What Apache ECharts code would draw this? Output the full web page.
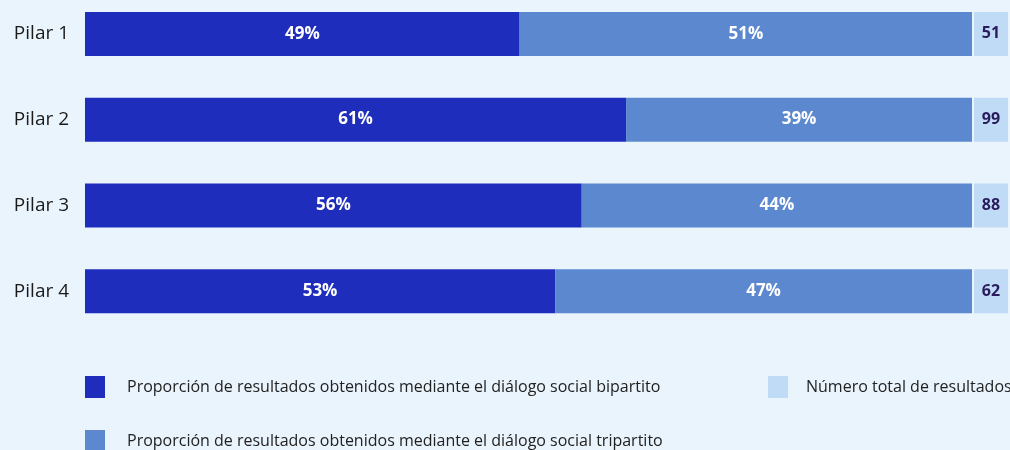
<!DOCTYPE html>
<html><head><meta charset="utf-8">
<script src="https://cdn.jsdelivr.net/npm/echarts@6/dist/echarts.min.js"></script>
<style>html,body{margin:0;padding:0;background:#eaf4fd;}#c{width:1010px;height:450px;}</style>
</head><body><div id="c"></div>
<script>
const categories = ['Pilar 1', 'Pilar 2', 'Pilar 3', 'Pilar 4'];
const bipartito = [49, 61, 56, 53];
const tripartito = [51, 39, 44, 47];
const totales = [51, 99, 88, 62];
const names = [
  'Proporción de resultados obtenidos mediante el diálogo social bipartito',
  'Proporción de resultados obtenidos mediante el diálogo social tripartito',
  'Número total de resultados'
];
const C1 = '#1f2dbd', C2 = '#5b88cf', C3 = '#c0dbf6';
const FONT = 'Open Sans';
const legendText = { fontSize: 16, color: '#222', fontFamily: FONT };
function leg(name, left, top, pad) {
  return { data: [name], left: left, top: top, itemWidth: 20, itemHeight: 22, icon: 'rect',
    textStyle: Object.assign({ padding: [0, 0, 0, pad] }, legendText), selectedMode: false, padding: 0 };
}
const chart = echarts.init(document.getElementById('c'));
chart.setOption({
  backgroundColor: '#eaf4fd',
  animation: false,
  textStyle: { fontFamily: FONT },
  grid: { left: 85, width: 887, top: -9, height: 343, outerBoundsMode: 'none', containLabel: false },
  xAxis: { type: 'value', min: 0, max: 100, show: false },
  yAxis: {
    type: 'category', data: categories, inverse: true,
    axisLine: { show: false }, axisTick: { show: false },
    axisLabel: { fontSize: 19, color: '#1a1a1a', margin: 16, fontFamily: FONT }
  },
  legend: [
    leg(names[0], 85, 376, 17),
    leg(names[1], 85, 430, 17),
    leg(names[2], 768, 376, 13)
  ],
  series: [
    { name: names[0], type: 'bar', stack: 's', barWidth: 44, data: bipartito,
      itemStyle: { color: C1 },
      label: { show: true, position: 'inside', color: '#fff', fontWeight: 'bold', fontSize: 17, formatter: p => p.value + '%' } },
    { name: names[1], type: 'bar', stack: 's', barWidth: 44, data: tripartito,
      itemStyle: { color: C2 },
      label: { show: true, position: 'inside', color: '#fff', fontWeight: 'bold', fontSize: 17, formatter: p => p.value + '%' } },
    { name: names[2], type: 'custom', itemStyle: { color: C3 },
      data: totales.map((t, i) => [i, t]),
      encode: { y: 0, x: 1 },
      renderItem: (params, api) => {
        const p = api.coord([100, api.value(0)]);
        return { type: 'group', children: [
          { type: 'rect', shape: { x: p[0] + 2, y: p[1] - 22, width: 34, height: 44 }, style: { fill: C3 } },
          { type: 'text', style: { text: String(api.value(1)), x: p[0] + 19, y: p[1], align: 'center', verticalAlign: 'middle',
            fill: '#2a1c5c', font: 'bold 16px "Open Sans"' } }
        ] };
      } }
  ]
});
</script></body></html>
